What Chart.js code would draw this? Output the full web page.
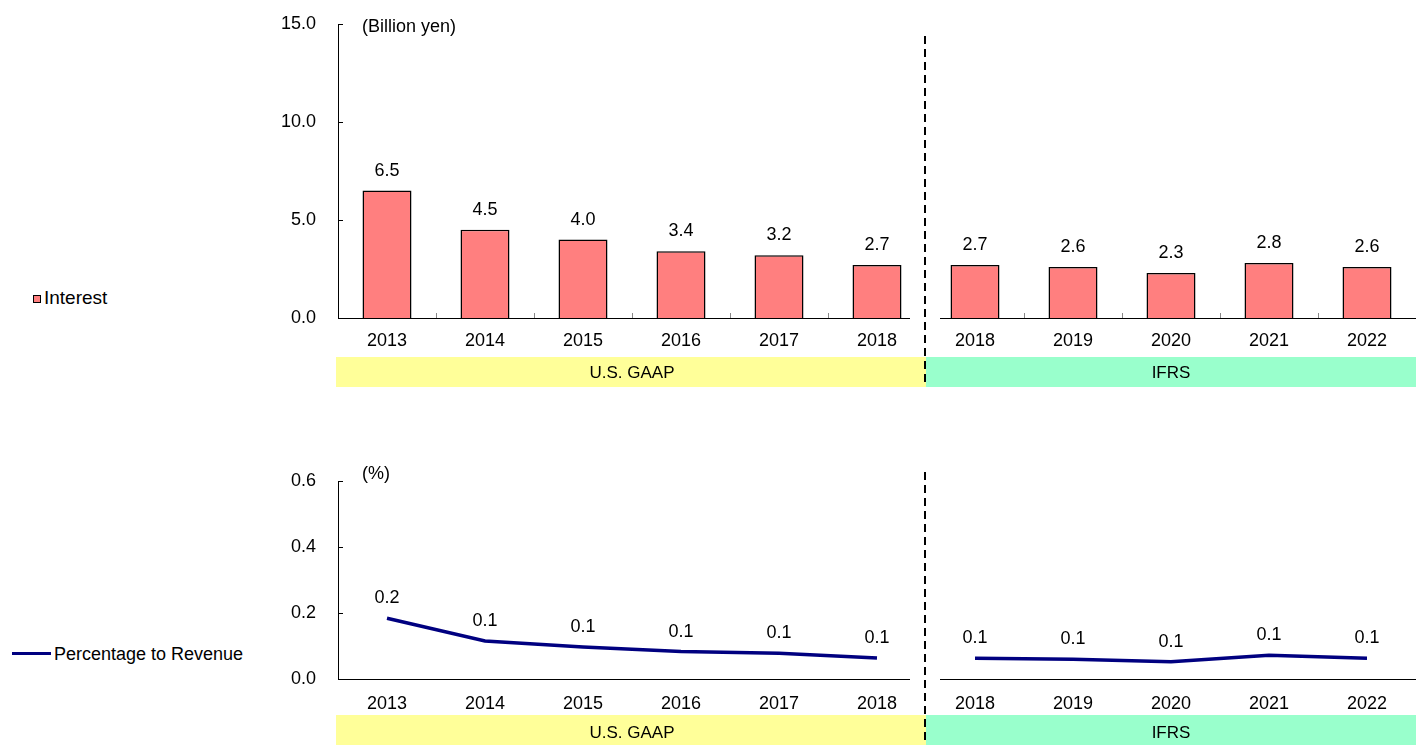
<!DOCTYPE html>
<html>
<head>
<meta charset="utf-8">
<script src="https://cdn.jsdelivr.net/npm/chart.js@4"></script>
<style>
body { margin: 0; width: 1416px; height: 745px; position: relative; background: #fff; overflow: hidden;
       font-family: "Liberation Sans", Arial, sans-serif; }
.box { position: absolute; left: 270px; width: 1146px; }
#topBox { top: 0; height: 400px; }
#bottomBox { top: 400px; height: 345px; }
.legend { position: absolute; font-size: 18px; line-height: 20px; color: #000; white-space: nowrap; }
.legend .sq { display: inline-block; box-sizing: border-box; width: 8px; height: 8px; background: #ff7f7f;
              border: 1px solid #000; margin-right: 3px; vertical-align: 1px; }
.legend .ln { display: inline-block; width: 39px; height: 3px; background: #000080; margin-right: 3px; vertical-align: 5px; }
</style>
</head>
<body>
<div class="legend" style="left:33px; top:288px; font-size:19px;"><span class="sq"></span>Interest</div>
<div class="legend" style="left:12px; top:644px;"><span class="ln"></span>Percentage to Revenue</div>
<div class="box" id="topBox"><canvas id="interestChart"></canvas></div>
<div class="box" id="bottomBox"><canvas id="ratioChart"></canvas></div>
<script>
// values
const years = ['2013', '2014', '2015', '2016', '2017', '2018', '2018', '2019', '2020', '2021', '2022'];
const interest = [6.5, 4.5, 4.0, 3.4, 3.2, 2.7, 2.7, 2.6, 2.3, 2.8, 2.6];
const ratioGaap = [0.184, 0.115, 0.097, 0.083, 0.078, 0.064];
const ratioIfrs = [0.063, 0.060, 0.052, 0.072, 0.063];
const interestTicks = [0, 5, 10, 15];
const ratioTicks = [0, 0.2, 0.4, 0.6];
const standards = ['U.S. GAAP', 'IFRS'];

const splitAt = ratioGaap.length;

Chart.defaults.font.family = '"Liberation Sans", Arial, sans-serif';
Chart.defaults.font.size = 18;
Chart.defaults.color = '#000';

// bands, broken x axis, inner ticks, dashed divider, value labels
const decor = {
    id: 'decor',
    afterDraw(chart, args, o) {
        const { ctx, chartArea: a, scales: { x, y } } = chart;
        const split = (x.getPixelForValue(splitAt - 1) + x.getPixelForValue(splitAt)) / 2;
        const bandY = a.bottom + o.bandTop;
        ctx.save();

        ctx.fillStyle = '#ffff99';
        ctx.fillRect(a.left - 2, bandY, split - a.left + 2, 30);
        ctx.fillStyle = '#99ffcc';
        ctx.fillRect(split, bandY, a.right - split, 30);
        ctx.fillStyle = '#000';
        ctx.font = '17px "Liberation Sans", Arial, sans-serif';
        ctx.textAlign = 'center';
        ctx.textBaseline = 'middle';
        ctx.fillText(standards[0], (a.left + split) / 2, bandY + o.bandText);
        ctx.fillText(standards[1], (split + a.right) / 2, bandY + o.bandText);

        // x axis with a gap at the divider
        ctx.strokeStyle = '#000';
        ctx.lineWidth = 1;
        ctx.beginPath();
        ctx.moveTo(a.left, a.bottom + 0.5);
        ctx.lineTo(split - 16, a.bottom + 0.5);
        ctx.moveTo(split + 14, a.bottom + 0.5);
        ctx.lineTo(a.right, a.bottom + 0.5);
        ctx.stroke();

        // y ticks pointing inside
        ctx.beginPath();
        y.ticks.forEach(t => {
            const py = Math.round(y.getPixelForValue(t.value)) + 0.5;
            ctx.moveTo(a.left, py);
            ctx.lineTo(a.left + 5, py);
        });
        ctx.stroke();

        if (o.xTicks) {
            ctx.strokeStyle = '#888';
            ctx.beginPath();
            for (let i = 1; i < years.length; i++) {
                if (i === splitAt) continue;
                const px = Math.round((x.getPixelForValue(i - 1) + x.getPixelForValue(i)) / 2) + 0.5;
                ctx.moveTo(px, a.bottom);
                ctx.lineTo(px, a.bottom - 5);
            }
            ctx.stroke();
        }

        // divider
        ctx.strokeStyle = '#000';
        ctx.lineWidth = 2;
        ctx.setLineDash([8, 5]);
        ctx.beginPath();
        ctx.moveTo(split - 1, o.dashTop);
        ctx.lineTo(split - 1, bandY + 30);
        ctx.stroke();
        ctx.setLineDash([]);

        // unit
        ctx.font = '18px "Liberation Sans", Arial, sans-serif';
        ctx.textAlign = 'left';
        ctx.fillText(o.unit, a.left + 24, o.unitY);

        // value labels
        ctx.textAlign = 'center';
        chart.data.datasets.forEach((ds, di) => {
            chart.getDatasetMeta(di).data.forEach((el, i) => {
                const v = ds.data[i];
                if (v == null) return;
                ctx.fillText(v.toFixed(1), el.x, el.y - 20);
            });
        });
        ctx.restore();
    }
};

const axes = (ticks, min, max, xHeight, xPad) => ({
    x: {
        offset: true,
        grid: { display: false, drawTicks: false },
        border: { display: false },
        ticks: { padding: xPad, maxRotation: 0, autoSkip: false },
        afterFit: s => { s.height = xHeight; }
    },
    y: {
        min: min,
        max: max,
        grid: { display: false, drawTicks: false },
        border: { color: '#000', width: 1 },
        ticks: { padding: 22, callback: v => v.toFixed(1) },
        afterBuildTicks: s => { s.ticks = ticks.map(v => ({ value: v })); },
        afterFit: s => {
            s.width = 68;
            s.paddingTop = 0;
            s.paddingBottom = 0;
        }
    }
});

new Chart(document.getElementById('interestChart'), {
    type: 'bar',
    data: {
        labels: years,
        datasets: [{
            label: 'Interest',
            data: interest,
            backgroundColor: '#ff7f7f',
            borderColor: '#000',
            borderWidth: 1.5,
            categoryPercentage: 1,
            barPercentage: 0.5
        }]
    },
    options: {
        responsive: true,
        maintainAspectRatio: false,
        animation: false,
        layout: { padding: { top: 24, bottom: 12, left: 0, right: 0 } },
        plugins: {
            legend: { display: false },
            tooltip: { enabled: false },
            decor: { bandTop: 39, bandText: 16, dashTop: 36, unit: '(Billion yen)', unitY: 27, xTicks: true }
        },
        scales: axes(interestTicks, 0, 15, 70, 12)
    },
    plugins: [decor]
});

const pad = n => Array(n).fill(null);

new Chart(document.getElementById('ratioChart'), {
    type: 'line',
    data: {
        labels: years,
        datasets: [
            { label: 'Percentage to Revenue', data: ratioGaap.concat(pad(ratioIfrs.length)) },
            { label: 'Percentage to Revenue', data: pad(ratioGaap.length).concat(ratioIfrs) }
        ].map(d => Object.assign(d, {
            borderColor: '#000080',
            borderWidth: 3.5,
            pointRadius: 0,
            tension: 0,
            spanGaps: false
        }))
    },
    options: {
        responsive: true,
        maintainAspectRatio: false,
        animation: false,
        layout: { padding: { top: 81, bottom: 0, left: 0, right: 0 } },
        plugins: {
            legend: { display: false },
            tooltip: { enabled: false },
            decor: { bandTop: 36, bandText: 18, dashTop: 72, unit: '(%)', unitY: 74, xTicks: false }
        },
        scales: axes(ratioTicks, 0, 0.6, 66, 14)
    },
    plugins: [decor]
});
</script>
</body>
</html>
